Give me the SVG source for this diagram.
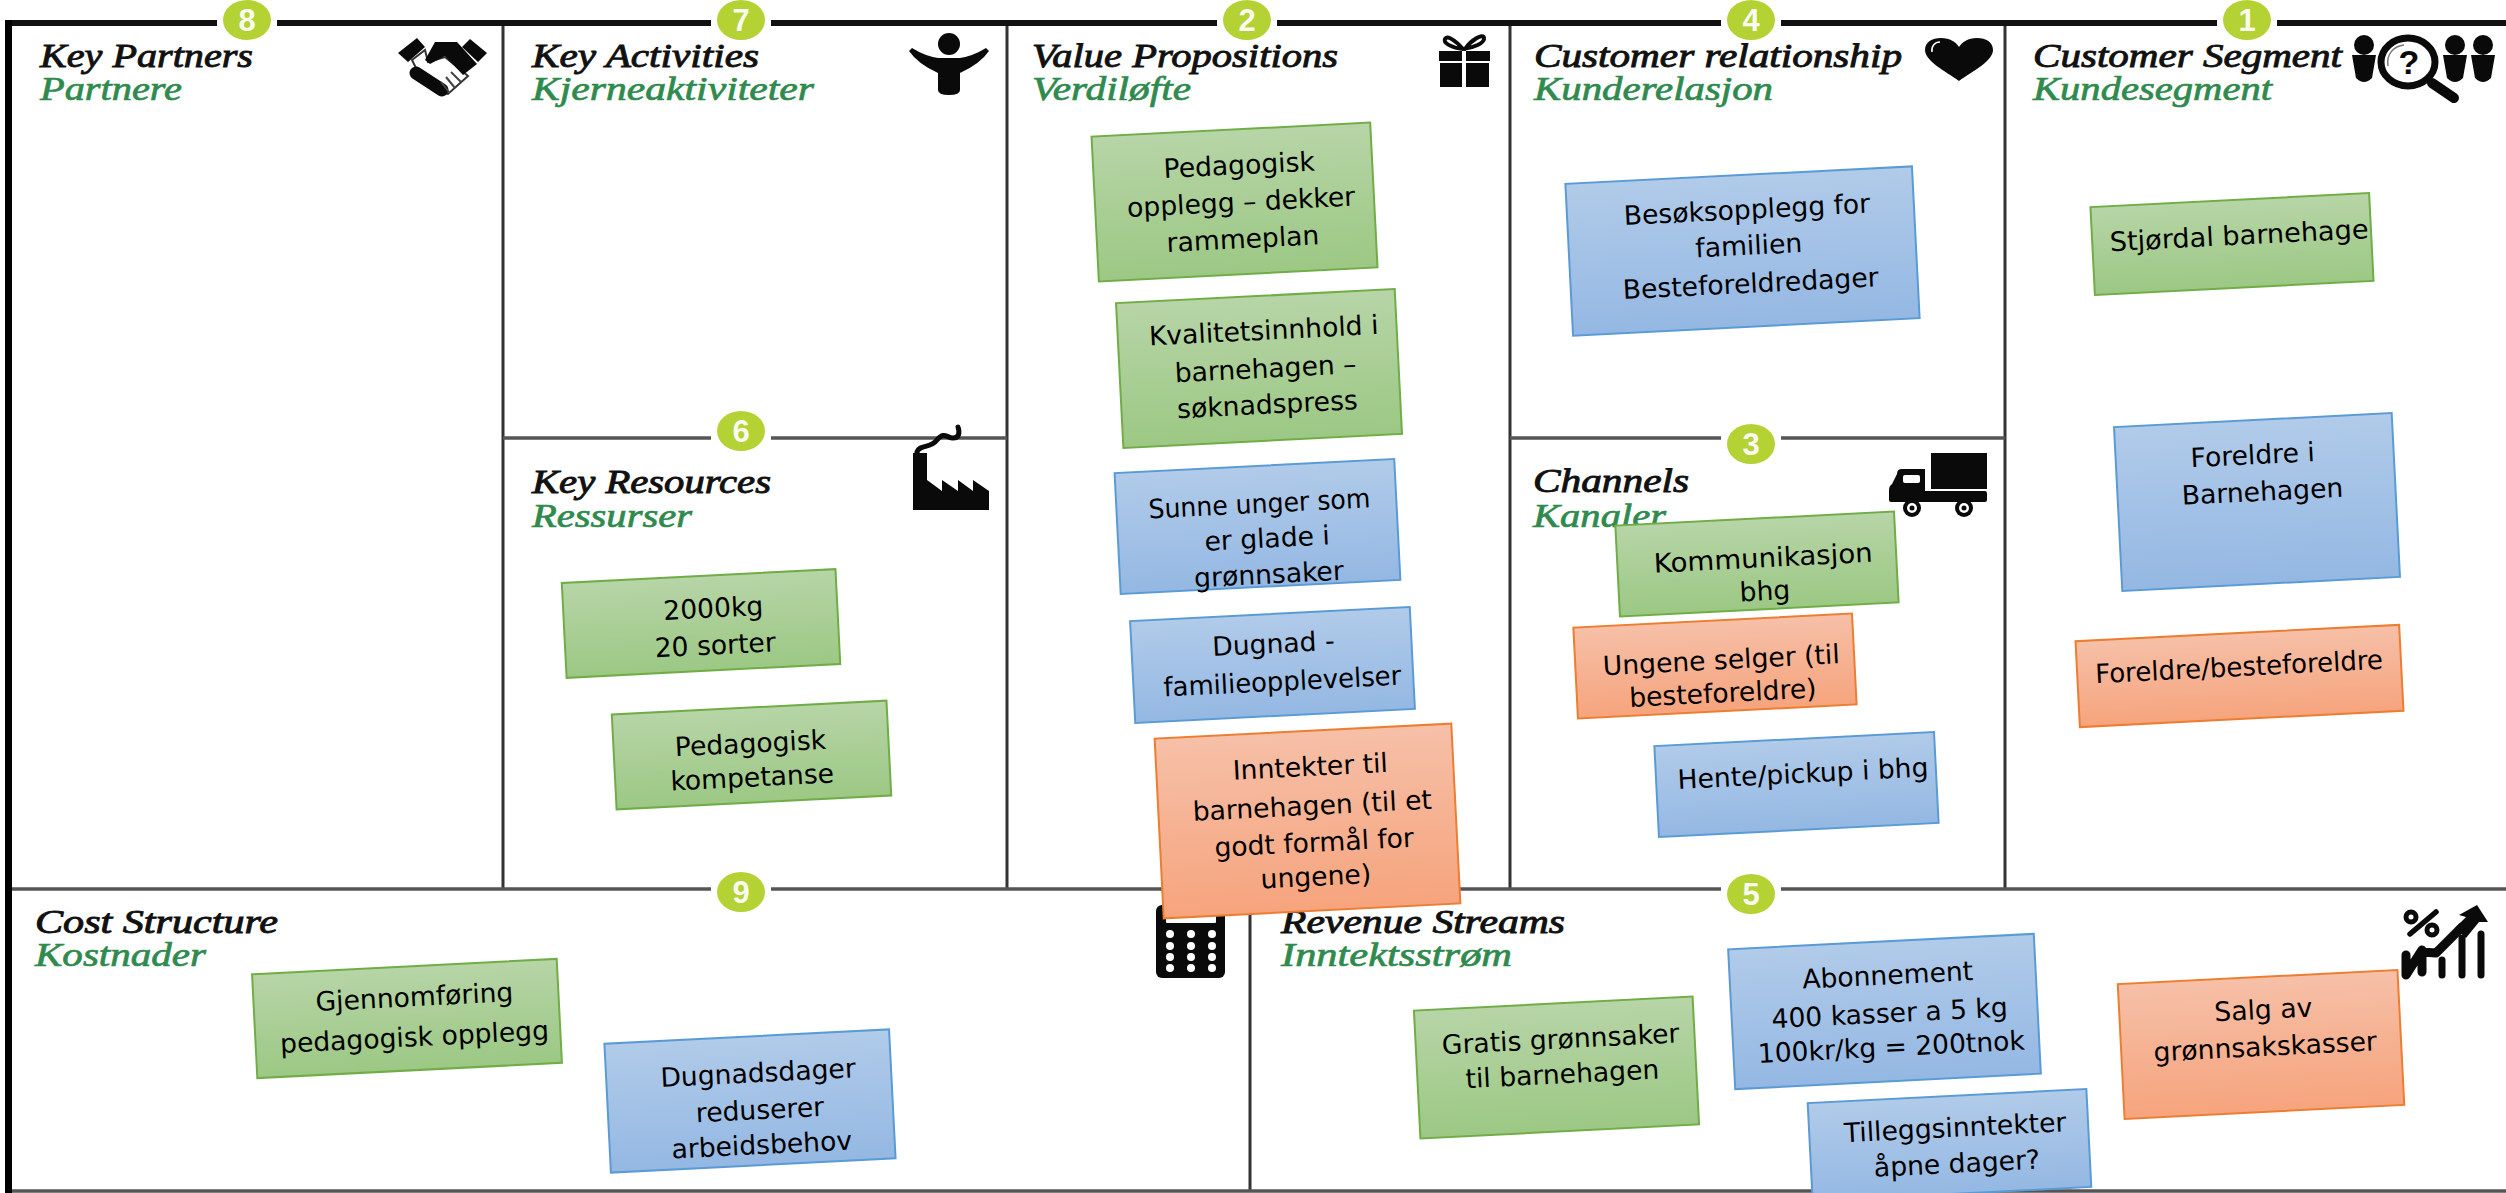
<svg xmlns="http://www.w3.org/2000/svg" width="2506" height="1193" viewBox="0 0 2506 1193">
<defs>
<linearGradient id="gG" x1="0" y1="0" x2="0" y2="1"><stop offset="0" stop-color="#B7D5A7"/><stop offset="1" stop-color="#9CC884"/></linearGradient>
<linearGradient id="gB" x1="0" y1="0" x2="0" y2="1"><stop offset="0" stop-color="#B1CBE9"/><stop offset="1" stop-color="#94B8E3"/></linearGradient>
<linearGradient id="gO" x1="0" y1="0" x2="0" y2="1"><stop offset="0" stop-color="#F6C0A8"/><stop offset="1" stop-color="#F6A47D"/></linearGradient>
</defs>
<style>
.h{font-family:"Liberation Serif",serif;font-style:italic;font-size:33px;fill:#111;stroke:#111;stroke-width:.9}
.s{font-family:"Liberation Serif",serif;font-style:italic;font-size:33px;fill:#2F8A4E;stroke:#2F8A4E;stroke-width:.7}
.b{fill:#B4D234}
.d{font-family:"Liberation Sans",sans-serif;font-weight:bold;font-size:31px;fill:#fff;text-anchor:middle;opacity:.92}
.gap{fill:#fff}
.n{font-family:"DejaVu Sans",sans-serif;font-size:26.6px;fill:#000;text-anchor:middle}
.G{fill:url(#gG);stroke:#70AD47;stroke-width:2}
.B{fill:url(#gB);stroke:#5B9BD5;stroke-width:2}
.O{fill:url(#gO);stroke:#ED7D31;stroke-width:2}
.k{fill:#0A0A0A}
.kl{fill:none;stroke:#0A0A0A;stroke-linecap:round;stroke-linejoin:round}
.w{fill:#fff}
</style>
<rect width="2506" height="1193" fill="#fff"/>
<g id="frame" fill="none">
<path d="M503 23V889M1007 23V889M1510 23V889M2005 23V889M1250 889V1191" stroke="#333" stroke-width="3"/>
<path d="M503 438H1007M1510 438H2005M8 889H2506M8 1191H2506" stroke="#555" stroke-width="3.5"/>
<path d="M5 23H2506" stroke="#111" stroke-width="6"/>
<path d="M8.500 20V1193" stroke="#000" stroke-width="7"/>
</g>
<g id="key-partners">
<rect class="gap" x="217" y="0" width="60" height="40"/><ellipse class="b" cx="247" cy="20" rx="24" ry="20"/><text class="d" x="247" y="31">8</text>
<text class="h" x="40" y="67" textLength="213" lengthAdjust="spacingAndGlyphs">Key Partners</text>
<text class="s" x="40" y="100" textLength="142" lengthAdjust="spacingAndGlyphs">Partnere</text>
<path class="k" d="M398 53L417 38L425 47L408 62ZM462 47L470 39L487 53L478 62Z"/>
<path fill="#fff" stroke="#333" stroke-width="2" d="M412 60L425 50L428 62L445 57L468 76L448 94L440 92L420 76Z"/>
<path class="k" d="M425 60L435 42L457 42L477 64L463 75L445 56L430 64Z"/>
<path class="kl" stroke-width="13" d="M416 73L442 90"/>
<path fill="none" stroke="#444" stroke-width="2" d="M446 77L455 88M451 72L461 82M441 82L449 92"/>
</g>
<g id="key-activities">
<rect class="gap" x="711" y="0" width="60" height="40"/><ellipse class="b" cx="741" cy="20" rx="24" ry="20"/><text class="d" x="741" y="31">7</text>
<text class="h" x="532" y="67" textLength="227" lengthAdjust="spacingAndGlyphs">Key Activities</text>
<text class="s" x="532" y="100" textLength="282" lengthAdjust="spacingAndGlyphs">Kjerneaktiviteter</text>
<circle class="k" cx="949" cy="44" r="11"/>
<path class="k" d="M909 51L912 48Q925 56 938 58H960Q973 56 986 48L989 51Q980 64 960 73L960 90Q960 95 949 95Q938 95 938 90L938 73Q918 64 909 51Z"/>
</g>
<g id="key-resources">
<rect class="gap" x="711" y="420" width="60" height="30"/><ellipse class="b" cx="741" cy="431" rx="24" ry="20"/><text class="d" x="741" y="442">6</text>
<text class="h" x="532" y="493" textLength="239" lengthAdjust="spacingAndGlyphs">Key Resources</text>
<text class="s" x="532" y="527" textLength="160" lengthAdjust="spacingAndGlyphs">Ressurser</text>
<path class="k" d="M913 453H927V480L942 491V480L958 491V480L973 491V480L989 491V510H913Z"/>
<path class="kl" stroke-width="5" d="M917 452C920 444 930 449 937 440S947 438 953 438S960 433 958 427"/>
</g>
<g id="value-propositions">
<rect class="gap" x="1217" y="0" width="60" height="40"/><ellipse class="b" cx="1247" cy="20" rx="24" ry="20"/><text class="d" x="1247" y="31">2</text>
<text class="h" x="1032" y="67" textLength="306" lengthAdjust="spacingAndGlyphs">Value Propositions</text>
<text class="s" x="1032" y="100" textLength="159" lengthAdjust="spacingAndGlyphs">Verdiløfte</text>
<path class="k" d="M1439 51H1490V61H1439ZM1440 63H1489V87H1440Z"/>
<path class="w" d="M1462 51H1466V87H1462Z"/>
<path class="kl" stroke-width="4" d="M1463 49C1455 40 1447 35 1445 39S1452 48 1463 49C1473 48 1485 43 1484 38S1471 40 1465 49"/>
</g>
<g id="customer-relationship">
<rect class="gap" x="1721" y="0" width="60" height="40"/><ellipse class="b" cx="1751" cy="20" rx="24" ry="20"/><text class="d" x="1751" y="31">4</text>
<text class="h" x="1534" y="67" textLength="368" lengthAdjust="spacingAndGlyphs">Customer relationship</text>
<text class="s" x="1534" y="100" textLength="239" lengthAdjust="spacingAndGlyphs">Kunderelasjon</text>
<path class="k" d="M1959 81C1945 71 1925 61 1925 50C1925 42 1932 38 1941 38C1950 38 1956 42 1959 47C1962 42 1968 38 1977 38C1986 38 1993 42 1993 50C1993 61 1973 71 1959 81Z"/>
<path fill="none" stroke="#fff" stroke-width="1.500" d="M1932 52C1931 46 1935 42 1940 42"/>
</g>
<g id="channels">
<rect class="gap" x="1721" y="425" width="60" height="30"/><ellipse class="b" cx="1751" cy="444" rx="24" ry="20"/><text class="d" x="1751" y="455">3</text>
<text class="h" x="1533" y="492" textLength="156" lengthAdjust="spacingAndGlyphs">Channels</text>
<text class="s" x="1533" y="527" textLength="133" lengthAdjust="spacingAndGlyphs">Kanaler</text>
<path class="k" d="M1931 453H1987V489H1931Z"/>
<path class="k" d="M1897 474Q1897 469 1902 469H1925V491H1985Q1987 491 1987 494V500Q1987 502 1985 502H1891Q1889 502 1889 500V490Q1889 486 1892 484Z"/>
<rect class="w" x="1903" y="475" width="17" height="8" rx="2"/>
<circle class="k" cx="1912" cy="508" r="9"/><circle class="w" cx="1912" cy="508" r="5"/><circle class="k" cx="1912" cy="508" r="2.500"/>
<circle class="k" cx="1964" cy="508" r="9"/><circle class="w" cx="1964" cy="508" r="5"/><circle class="k" cx="1964" cy="508" r="2.500"/>
</g>
<g id="customer-segment">
<rect class="gap" x="2217" y="0" width="60" height="40"/><ellipse class="b" cx="2247" cy="20" rx="24" ry="20"/><text class="d" x="2247" y="31">1</text>
<text class="h" x="2033" y="67" textLength="309" lengthAdjust="spacingAndGlyphs">Customer Segment</text>
<text class="s" x="2033" y="100" textLength="239" lengthAdjust="spacingAndGlyphs">Kundesegment</text>
<g class="k">
<circle cx="2364" cy="45" r="10"/><path d="M2352 55H2376L2372 78Q2364 86 2356 78Z"/>
<circle cx="2455" cy="45" r="10"/><path d="M2443 55H2467L2463 78Q2455 86 2447 78Z"/>
<circle cx="2483" cy="45" r="10"/><path d="M2471 55H2495L2491 78Q2483 86 2475 78Z"/>
</g>
<circle class="w" cx="2408" cy="62" r="25"/>
<ellipse class="kl" cx="2408" cy="62" rx="27" ry="24" stroke-width="7"/>
<path class="kl" stroke-width="10" d="M2432 83L2454 98"/>
<path fill="none" stroke="#777" stroke-width="1.500" d="M2388 66C2386 54 2394 46 2404 45"/>
<text x="2409" y="74" font-family="Liberation Sans, sans-serif" font-weight="bold" font-size="34" text-anchor="middle" fill="#0A0A0A">?</text>
</g>
<g id="cost-structure">
<rect class="gap" x="711" y="880" width="60" height="18"/><ellipse class="b" cx="741" cy="892" rx="24" ry="20"/><text class="d" x="741" y="903">9</text>
<text class="h" x="35" y="933" textLength="243" lengthAdjust="spacingAndGlyphs">Cost Structure</text>
<text class="s" x="35" y="966" textLength="171" lengthAdjust="spacingAndGlyphs">Kostnader</text>
<rect class="k" x="1156" y="905" width="69" height="73" rx="6"/>
<rect class="w" x="1166" y="912" width="50" height="11" rx="1"/>
<g class="w">
<circle cx="1170" cy="934" r="4"/><circle cx="1191" cy="934" r="4"/><circle cx="1212" cy="934" r="4"/>
<circle cx="1170" cy="946" r="4"/><circle cx="1191" cy="946" r="4"/><circle cx="1212" cy="946" r="4"/>
<circle cx="1170" cy="957" r="4"/><circle cx="1191" cy="957" r="4"/><circle cx="1212" cy="957" r="4"/>
<circle cx="1170" cy="968" r="4"/><circle cx="1191" cy="968" r="4"/><circle cx="1212" cy="968" r="4"/>
</g>
</g>
<g id="revenue-streams">
<rect class="gap" x="1721" y="880" width="60" height="18"/><ellipse class="b" cx="1751" cy="894" rx="24" ry="20"/><text class="d" x="1751" y="905">5</text>
<text class="h" x="1281" y="933" textLength="284" lengthAdjust="spacingAndGlyphs">Revenue Streams</text>
<text class="s" x="1281" y="966" textLength="231" lengthAdjust="spacingAndGlyphs">Inntektsstrøm</text>
<path class="kl" stroke-width="5.500" d="M2410 934L2436 912"/>
<circle class="kl" cx="2411" cy="917" r="5" stroke-width="5"/><circle class="kl" cx="2432" cy="930" r="5" stroke-width="5"/>
<path class="kl" stroke-width="7" d="M2442 960V975M2462 938V975M2481 934V975"/>
<path class="kl" stroke-width="9" d="M2406 955V975L2422 950L2422 972M2422 952L2436 953L2462 927"/>
<path class="k" d="M2459 915L2477 905L2488 922L2479 922L2466 938L2455 928L2466 917Z"/>
</g>
<g id="note-ressurs-1" transform="translate(701 623) rotate(-2.9)"><rect class="G" x="-137" y="-47" width="274" height="95"/><text class="n" x="13" y="-5">2000kg</text><text class="n" x="13" y="32">20 sorter</text></g>
<g id="note-ressurs-2" transform="translate(751 754.500) rotate(-2.9)"><rect class="G" x="-137" y="-47" width="275" height="95"/><text class="n" y="-2">Pedagogisk</text><text class="n" y="32">kompetanse</text></g>
<g id="note-verdi-1" transform="translate(1235 201.500) rotate(-2.9)"><rect class="G" x="-140" y="-72" width="279" height="145"/><text class="n" x="6" y="-27">Pedagogisk</text><text class="n" x="6" y="10">opplegg – dekker</text><text class="n" x="6" y="47">rammeplan</text></g>
<g id="note-verdi-2" transform="translate(1259.500 368) rotate(-2.9)"><rect class="G" x="-140" y="-72" width="279" height="145"/><text class="n" x="6" y="-28">Kvalitetsinnhold i</text><text class="n" x="6" y="10">barnehagen –</text><text class="n" x="6" y="46">søknadspress</text></g>
<g id="note-verdi-3" transform="translate(1257.500 527) rotate(-2.9)"><rect class="B" x="-140" y="-61" width="280" height="121"/><text class="n" x="3" y="-14" textLength="222" lengthAdjust="spacingAndGlyphs">Sunne unger som</text><text class="n" x="9" y="21">er glade i</text><text class="n" x="9" y="57">grønnsaker</text></g>
<g id="note-verdi-4" transform="translate(1272.500 665) rotate(-2.9)"><rect class="B" x="-140" y="-51" width="280" height="102"/><text class="n" x="2" y="-12">Dugnad -</text><text class="n" x="9" y="26" textLength="238" lengthAdjust="spacingAndGlyphs">familieopplevelser</text></g>
<g id="note-verdi-5" transform="translate(1308 821) rotate(-2.9)"><rect class="O" x="-149" y="-90" width="297" height="180"/><text class="n" x="5" y="-45">Inntekter til</text><text class="n" x="5" y="-6">barnehagen (til et</text><text class="n" x="5" y="31">godt formål for</text><text class="n" x="5" y="65">ungene)</text></g>
<g id="note-relasjon-1" transform="translate(1743 251) rotate(-2.9)"><rect class="B" x="-174" y="-76" width="347" height="152"/><text class="n" x="6" y="-32">Besøksopplegg for</text><text class="n" x="6" y="4">familien</text><text class="n" x="6" y="42">Besteforeldredager</text></g>
<g id="note-kanal-1" transform="translate(1757.500 564.500) rotate(-2.9)"><rect class="G" x="-140" y="-46" width="279" height="91"/><text class="n" x="6" y="3" textLength="219" lengthAdjust="spacingAndGlyphs">Kommunikasjon</text><text class="n" x="6" y="36">bhg</text></g>
<g id="note-kanal-2" transform="translate(1715.500 666.500) rotate(-2.9)"><rect class="O" x="-140" y="-46" width="279" height="91"/><text class="n" x="6" y="3">Ungene selger (til</text><text class="n" x="6" y="36">besteforeldre)</text></g>
<g id="note-kanal-3" transform="translate(1796.500 785) rotate(-2.9)"><rect class="B" x="-140" y="-46" width="280" height="91"/><text class="n" x="7" y="-2">Hente/pickup i bhg</text></g>
<g id="note-segment-1" transform="translate(2232.500 244) rotate(-2.9)"><rect class="G" x="-140" y="-44" width="279" height="88"/><text class="n" x="7" y="1" textLength="259" lengthAdjust="spacingAndGlyphs">Stjørdal barnehage</text></g>
<g id="note-segment-2" transform="translate(2257 502) rotate(-2.9)"><rect class="B" x="-139" y="-82" width="278" height="164"/><text class="n" x="-2" y="-38">Foreldre i</text><text class="n" x="6" y="-1">Barnehagen</text></g>
<g id="note-segment-3" transform="translate(2239.500 676) rotate(-2.9)"><rect class="O" x="-162" y="-43" width="324" height="86"/><text class="n" x="0" y="0" textLength="288" lengthAdjust="spacingAndGlyphs">Foreldre/besteforeldre</text></g>
<g id="note-kost-1" transform="translate(407.500 1018.500) rotate(-2.9)"><rect class="G" x="-153" y="-52" width="305" height="104"/><text class="n" x="8" y="-12">Gjennomføring</text><text class="n" x="6" y="28">pedagogisk opplegg</text></g>
<g id="note-kost-2" transform="translate(750.500 1101.500) rotate(-2.9)"><rect class="B" x="-143" y="-65" width="285" height="129"/><text class="n" x="9" y="-19">Dugnadsdager</text><text class="n" x="9" y="18">reduserer</text><text class="n" x="9" y="53">arbeidsbehov</text></g>
<g id="note-inntekt-1" transform="translate(1557 1067.500) rotate(-2.9)"><rect class="G" x="-140" y="-64" width="279" height="128"/><text class="n" x="5" y="-19">Gratis grønnsaker</text><text class="n" x="5" y="16">til barnehagen</text></g>
<g id="note-inntekt-2" transform="translate(1884.500 1011.500) rotate(-2.9)"><rect class="B" x="-153" y="-70" width="306" height="140"/><text class="n" x="5" y="-27">Abonnement</text><text class="n" x="5" y="11">400 kasser a 5 kg</text><text class="n" x="5" y="45">100kr/kg = 200tnok</text></g>
<g id="note-inntekt-3" transform="translate(1950 1145) rotate(-2.9)"><rect class="B" x="-140" y="-49" width="279" height="98"/><text class="n" x="6" y="-8">Tilleggsinntekter</text><text class="n" x="6" y="28">åpne dager?</text></g>
<g id="note-inntekt-4" transform="translate(2261 1044) rotate(-2.9)"><rect class="O" x="-140" y="-67" width="280" height="135"/><text class="n" x="4" y="-25">Salg av</text><text class="n" x="4" y="12">grønnsakskasser</text></g>
</svg>
